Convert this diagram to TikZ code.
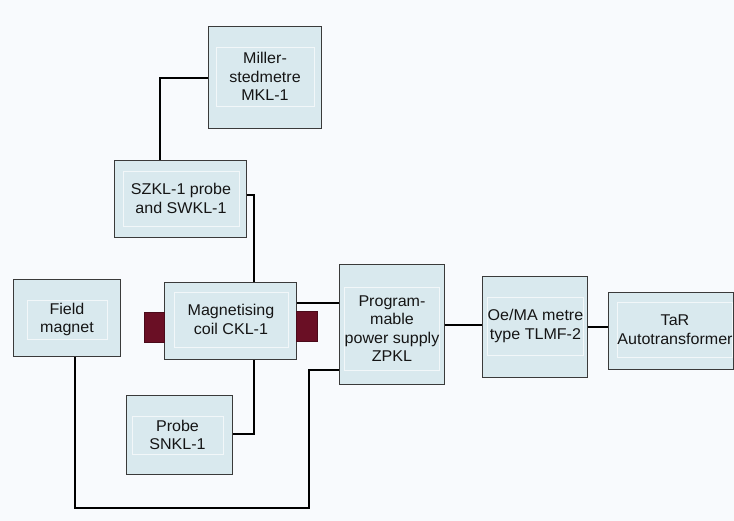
\documentclass[tikz,border=0pt]{standalone}
\usepackage{fontspec}
\setmainfont{Liberation Sans}[FakeStretch=1.03]
\definecolor{bg}{HTML}{F8FAFD}
\definecolor{boxfill}{HTML}{D9E9EE}
\definecolor{innerline}{HTML}{F2F7F9}
\definecolor{boxline}{HTML}{3A3A3A}
\definecolor{coilred}{HTML}{6A0F25}
\definecolor{txt}{HTML}{151515}
\tikzset{
  outerbox/.style={draw=boxline, line width=1pt, fill=boxfill, inner sep=0pt},
  innerbox/.style={draw=innerline, line width=0.8pt, inner sep=0pt, align=center,
     text=txt, font=\fontsize{15.6}{18.5}\selectfont},
  redblock/.style={fill=coilred, draw=coilred!70!black, line width=0.4pt},
  thinwire/.style={draw=black, line width=1.1pt},
  thickwire/.style={draw=black, line width=1.8pt},
}
\begin{document}
\begin{tikzpicture}[x=1pt,y=-1pt]
\fill[bg] (0,0) rectangle (734,521);
\useasboundingbox (0,0) rectangle (734,521);

% boxes
\node[outerbox, minimum width=113pt, minimum height=102pt] (miller) at (264.5,78) {};
\node[innerbox, minimum width=98pt, minimum height=59pt] (millerI) at (265,76.5) {Miller-\\stedmetre\\MKL-1};

\node[outerbox, minimum width=132pt, minimum height=77pt] (szkl) at (180,199.5) {};
\node[innerbox, minimum width=116pt, minimum height=55pt] (szklI) at (181,198.5) {SZKL-1 probe\\and SWKL-1};

\node[outerbox, minimum width=132pt, minimum height=77pt] (coil) at (230,321.5) {};
\node[innerbox, minimum width=114pt, minimum height=55pt] (coilI) at (231,319.5) {Magnetising\\coil CKL-1};

\node[redblock, minimum width=20pt, minimum height=30pt, inner sep=0pt] (redL) at (154,327) {};
\node[redblock, minimum width=21pt, minimum height=30pt, inner sep=0pt] (redR) at (306.5,326) {};

\node[outerbox, minimum width=105pt, minimum height=120pt] (ps) at (391.5,325) {};
\node[innerbox, minimum width=90pt, minimum height=83pt] (psI) at (392,328.5) {Program-\\mable\\power supply\\ZPKL};

\node[outerbox, minimum width=107pt, minimum height=77pt] (field) at (66.5,318.5) {};
\node[innerbox, minimum width=80pt, minimum height=39pt] (fieldI) at (67,319.5) {Field\\magnet};

\node[outerbox, minimum width=105pt, minimum height=101pt] (oe) at (534.5,327.5) {};
\node[innerbox, minimum width=93pt, minimum height=58pt] (oeI) at (535.5,326) {Oe/MA metre\\type TLMF-2};

\node[outerbox, minimum width=125pt, minimum height=77pt] (tar) at (670.5,331.5) {};
\node[innerbox, minimum width=114pt, minimum height=55pt] (tarI) at (675,329.5) {TaR\\Autotransformer};

\node[outerbox, minimum width=106pt, minimum height=78pt] (probe) at (179,435) {};
\node[innerbox, minimum width=91pt, minimum height=38pt] (probeI) at (177.5,435) {Probe\\SNKL-1};

% connectors
\draw[thickwire] (miller.west) -| ([xshift=-20pt]szkl.north);
\draw[thinwire] ([yshift=4.5pt]szkl.east) -| ([xshift=24pt]coil.north);
\draw[thinwire] ([xshift=24pt]coil.south) |- ([yshift=1pt]probe.east);
\draw[thickwire] ([yshift=-20.5pt]coil.north east) coordinate (c1) -- (c1 -| ps.west);
\draw[thickwire] (ps.east) -- (ps.east -| oe.west);
\draw[thickwire] ([yshift=0.5pt]oe.east) coordinate (c2) -- (c2 -| tar.west);
\coordinate (b1) at (309,508);
\draw[thinwire] ([xshift=8.5pt]field.south) |- (b1) |- ([yshift=-45pt]ps.west);
\end{tikzpicture}
\end{document}
